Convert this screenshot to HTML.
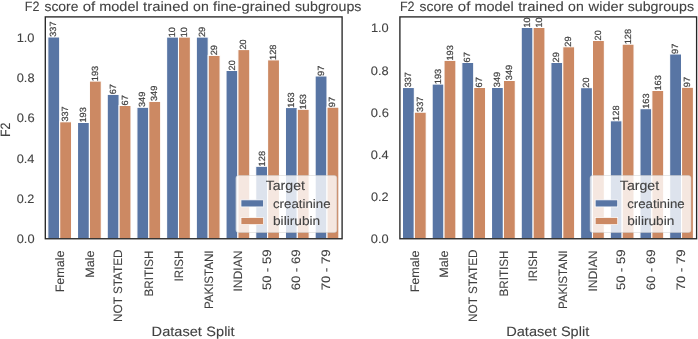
<!DOCTYPE html>
<html><head><meta charset="utf-8"><style>
html,body{margin:0;padding:0;background:#fff;}
svg{display:block;will-change:transform;filter:blur(0.35px);}
text{font-family:"Liberation Sans",sans-serif;text-rendering:geometricPrecision;}
</style></head><body>
<svg width="698" height="339" viewBox="0 0 698 339">
<rect width="698" height="339" fill="#fff"/>
<rect x="47.82" y="36.97" width="11.88" height="201.78" fill="#5875a4" stroke="#fff" stroke-width="1.07"/>
<rect x="59.70" y="121.77" width="11.88" height="116.98" fill="#cc8963" stroke="#fff" stroke-width="1.07"/>
<rect x="77.52" y="122.47" width="11.88" height="116.28" fill="#5875a4" stroke="#fff" stroke-width="1.07"/>
<rect x="89.40" y="81.06" width="11.88" height="157.69" fill="#cc8963" stroke="#fff" stroke-width="1.07"/>
<rect x="107.22" y="94.37" width="11.88" height="144.38" fill="#5875a4" stroke="#fff" stroke-width="1.07"/>
<rect x="119.10" y="105.47" width="11.88" height="133.28" fill="#cc8963" stroke="#fff" stroke-width="1.07"/>
<rect x="136.92" y="107.27" width="11.88" height="131.49" fill="#5875a4" stroke="#fff" stroke-width="1.07"/>
<rect x="148.80" y="101.37" width="11.88" height="137.38" fill="#cc8963" stroke="#fff" stroke-width="1.07"/>
<rect x="166.62" y="37.07" width="11.88" height="201.69" fill="#5875a4" stroke="#fff" stroke-width="1.07"/>
<rect x="178.50" y="37.07" width="11.88" height="201.69" fill="#cc8963" stroke="#fff" stroke-width="1.07"/>
<rect x="196.32" y="37.07" width="11.88" height="201.69" fill="#5875a4" stroke="#fff" stroke-width="1.07"/>
<rect x="208.20" y="55.37" width="11.88" height="183.38" fill="#cc8963" stroke="#fff" stroke-width="1.07"/>
<rect x="226.02" y="70.47" width="11.88" height="168.28" fill="#5875a4" stroke="#fff" stroke-width="1.07"/>
<rect x="237.90" y="49.57" width="11.88" height="189.19" fill="#cc8963" stroke="#fff" stroke-width="1.07"/>
<rect x="255.72" y="166.27" width="11.88" height="72.48" fill="#5875a4" stroke="#fff" stroke-width="1.07"/>
<rect x="267.60" y="59.87" width="11.88" height="178.88" fill="#cc8963" stroke="#fff" stroke-width="1.07"/>
<rect x="285.42" y="107.56" width="11.88" height="131.19" fill="#5875a4" stroke="#fff" stroke-width="1.07"/>
<rect x="297.30" y="109.27" width="11.88" height="129.49" fill="#cc8963" stroke="#fff" stroke-width="1.07"/>
<rect x="315.12" y="75.97" width="11.88" height="162.78" fill="#5875a4" stroke="#fff" stroke-width="1.07"/>
<rect x="327.00" y="107.17" width="11.88" height="131.58" fill="#cc8963" stroke="#fff" stroke-width="1.07"/>
<text transform="translate(56.39,36.72) rotate(-90)" x="0" y="0" font-size="9.0" textLength="15.22" lengthAdjust="spacingAndGlyphs" fill="#424242" stroke="#424242" stroke-width="0.2">337</text>
<text transform="translate(68.25,121.52) rotate(-90)" x="0" y="0" font-size="9.0" textLength="15.22" lengthAdjust="spacingAndGlyphs" fill="#424242" stroke="#424242" stroke-width="0.2">337</text>
<text transform="translate(86.34,122.60) rotate(-90)" x="0" y="0" font-size="9.0" textLength="15.39" lengthAdjust="spacingAndGlyphs" fill="#424242" stroke="#424242" stroke-width="0.2">193</text>
<text transform="translate(98.20,81.20) rotate(-90)" x="0" y="0" font-size="9.0" textLength="15.39" lengthAdjust="spacingAndGlyphs" fill="#424242" stroke="#424242" stroke-width="0.2">193</text>
<text transform="translate(115.79,94.33) rotate(-90)" x="0" y="0" font-size="9.0" textLength="10.26" lengthAdjust="spacingAndGlyphs" fill="#424242" stroke="#424242" stroke-width="0.2">67</text>
<text transform="translate(127.65,105.43) rotate(-90)" x="0" y="0" font-size="9.0" textLength="10.26" lengthAdjust="spacingAndGlyphs" fill="#424242" stroke="#424242" stroke-width="0.2">67</text>
<text transform="translate(145.49,107.02) rotate(-90)" x="0" y="0" font-size="9.0" textLength="15.40" lengthAdjust="spacingAndGlyphs" fill="#424242" stroke="#424242" stroke-width="0.2">349</text>
<text transform="translate(157.35,101.12) rotate(-90)" x="0" y="0" font-size="9.0" textLength="15.40" lengthAdjust="spacingAndGlyphs" fill="#424242" stroke="#424242" stroke-width="0.2">349</text>
<text transform="translate(175.44,37.20) rotate(-90)" x="0" y="0" font-size="9.0" textLength="10.12" lengthAdjust="spacingAndGlyphs" fill="#424242" stroke="#424242" stroke-width="0.2">10</text>
<text transform="translate(187.30,37.20) rotate(-90)" x="0" y="0" font-size="9.0" textLength="10.12" lengthAdjust="spacingAndGlyphs" fill="#424242" stroke="#424242" stroke-width="0.2">10</text>
<text transform="translate(204.89,37.03) rotate(-90)" x="0" y="0" font-size="9.0" textLength="10.26" lengthAdjust="spacingAndGlyphs" fill="#424242" stroke="#424242" stroke-width="0.2">29</text>
<text transform="translate(216.75,55.33) rotate(-90)" x="0" y="0" font-size="9.0" textLength="10.26" lengthAdjust="spacingAndGlyphs" fill="#424242" stroke="#424242" stroke-width="0.2">29</text>
<text transform="translate(234.59,70.43) rotate(-90)" x="0" y="0" font-size="9.0" textLength="10.21" lengthAdjust="spacingAndGlyphs" fill="#424242" stroke="#424242" stroke-width="0.2">20</text>
<text transform="translate(246.45,49.53) rotate(-90)" x="0" y="0" font-size="9.0" textLength="10.21" lengthAdjust="spacingAndGlyphs" fill="#424242" stroke="#424242" stroke-width="0.2">20</text>
<text transform="translate(264.54,166.41) rotate(-90)" x="0" y="0" font-size="9.0" textLength="15.47" lengthAdjust="spacingAndGlyphs" fill="#424242" stroke="#424242" stroke-width="0.2">128</text>
<text transform="translate(276.40,60.01) rotate(-90)" x="0" y="0" font-size="9.0" textLength="15.47" lengthAdjust="spacingAndGlyphs" fill="#424242" stroke="#424242" stroke-width="0.2">128</text>
<text transform="translate(294.24,107.70) rotate(-90)" x="0" y="0" font-size="9.0" textLength="15.39" lengthAdjust="spacingAndGlyphs" fill="#424242" stroke="#424242" stroke-width="0.2">163</text>
<text transform="translate(306.10,109.40) rotate(-90)" x="0" y="0" font-size="9.0" textLength="15.39" lengthAdjust="spacingAndGlyphs" fill="#424242" stroke="#424242" stroke-width="0.2">163</text>
<text transform="translate(323.61,75.93) rotate(-90)" x="0" y="0" font-size="9.0" textLength="10.26" lengthAdjust="spacingAndGlyphs" fill="#424242" stroke="#424242" stroke-width="0.2">97</text>
<text transform="translate(335.47,107.13) rotate(-90)" x="0" y="0" font-size="9.0" textLength="10.26" lengthAdjust="spacingAndGlyphs" fill="#424242" stroke="#424242" stroke-width="0.2">97</text>
<rect x="45.30" y="16.90" width="296.80" height="221.85" fill="none" stroke="#262626" stroke-width="1.34"/>
<rect x="235.90" y="175.50" width="100.9" height="57" rx="2.5" fill="#ffffff" fill-opacity="0.8" stroke="#cccccc" stroke-opacity="0.6" stroke-width="0.8"/>
<rect x="241.00" y="199.90" width="22.5" height="7.0" fill="#5875a4" stroke="#fff" stroke-width="0.7"/>
<rect x="241.00" y="217.60" width="22.5" height="7.0" fill="#cc8963" stroke="#fff" stroke-width="0.7"/>
<text x="265.67" y="189.60" font-size="13.5" textLength="39.31" lengthAdjust="spacingAndGlyphs" fill="#424242" stroke="#424242" stroke-width="0.1">Target</text>
<text x="272.96" y="207.70" font-size="12.35" textLength="57.58" lengthAdjust="spacingAndGlyphs" fill="#424242" stroke="#424242" stroke-width="0.1">creatinine</text>
<text x="273.00" y="224.80" font-size="12.35" textLength="47.23" lengthAdjust="spacingAndGlyphs" fill="#424242" stroke="#424242" stroke-width="0.1">bilirubin</text>
<text x="24.76" y="10.55" font-size="13.5" textLength="14.63" lengthAdjust="spacingAndGlyphs" fill="#424242" stroke="#424242" stroke-width="0.1">F2</text>
<text x="44.44" y="10.55" font-size="13.5" textLength="33.97" lengthAdjust="spacingAndGlyphs" fill="#424242" stroke="#424242" stroke-width="0.1">score</text>
<text x="82.71" y="10.55" font-size="13.5" textLength="12.49" lengthAdjust="spacingAndGlyphs" fill="#424242" stroke="#424242" stroke-width="0.1">of</text>
<text x="99.26" y="10.55" font-size="13.5" textLength="39.44" lengthAdjust="spacingAndGlyphs" fill="#424242" stroke="#424242" stroke-width="0.1">model</text>
<text x="143.14" y="10.55" font-size="13.5" textLength="45.61" lengthAdjust="spacingAndGlyphs" fill="#424242" stroke="#424242" stroke-width="0.1">trained</text>
<text x="193.06" y="10.55" font-size="13.5" textLength="15.68" lengthAdjust="spacingAndGlyphs" fill="#424242" stroke="#424242" stroke-width="0.1">on</text>
<text x="213.10" y="10.55" font-size="13.5" textLength="77.32" lengthAdjust="spacingAndGlyphs" fill="#424242" stroke="#424242" stroke-width="0.1">fine-grained</text>
<text x="295.02" y="10.55" font-size="13.5" textLength="66.38" lengthAdjust="spacingAndGlyphs" fill="#424242" stroke="#424242" stroke-width="0.1">subgroups</text>
<text x="16.69" y="243.15" font-size="12.35" textLength="17.83" lengthAdjust="spacingAndGlyphs" fill="#424242" stroke="#424242" stroke-width="0.1">0.0</text>
<text x="16.70" y="202.90" font-size="12.35" textLength="17.59" lengthAdjust="spacingAndGlyphs" fill="#424242" stroke="#424242" stroke-width="0.1">0.2</text>
<text x="16.69" y="162.65" font-size="12.35" textLength="17.82" lengthAdjust="spacingAndGlyphs" fill="#424242" stroke="#424242" stroke-width="0.1">0.4</text>
<text x="16.69" y="122.40" font-size="12.35" textLength="17.95" lengthAdjust="spacingAndGlyphs" fill="#424242" stroke="#424242" stroke-width="0.1">0.6</text>
<text x="16.69" y="82.15" font-size="12.35" textLength="17.83" lengthAdjust="spacingAndGlyphs" fill="#424242" stroke="#424242" stroke-width="0.1">0.8</text>
<text x="16.70" y="41.90" font-size="12.35" textLength="17.82" lengthAdjust="spacingAndGlyphs" fill="#424242" stroke="#424242" stroke-width="0.1">1.0</text>
<text transform="translate(64.01,292.30) rotate(-90)" x="0" y="0" font-size="12.2" textLength="41.75" lengthAdjust="spacingAndGlyphs" fill="#424242" stroke="#424242" stroke-width="0.1">Female</text>
<text transform="translate(93.71,277.75) rotate(-90)" x="0" y="0" font-size="12.2" textLength="27.34" lengthAdjust="spacingAndGlyphs" fill="#424242" stroke="#424242" stroke-width="0.1">Male</text>
<text transform="translate(122.25,321.95) rotate(-90)" x="0" y="0" font-size="12.2" textLength="72.55" lengthAdjust="spacingAndGlyphs" fill="#424242" stroke="#424242" stroke-width="0.1">NOT STATED</text>
<text transform="translate(153.11,296.42) rotate(-90)" x="0" y="0" font-size="12.2" textLength="45.84" lengthAdjust="spacingAndGlyphs" fill="#424242" stroke="#424242" stroke-width="0.1">BRITISH</text>
<text transform="translate(182.81,281.39) rotate(-90)" x="0" y="0" font-size="12.2" textLength="30.79" lengthAdjust="spacingAndGlyphs" fill="#424242" stroke="#424242" stroke-width="0.1">IRISH</text>
<text transform="translate(212.51,309.11) rotate(-90)" x="0" y="0" font-size="12.2" textLength="58.67" lengthAdjust="spacingAndGlyphs" fill="#424242" stroke="#424242" stroke-width="0.1">PAKISTANI</text>
<text transform="translate(242.09,291.57) rotate(-90)" x="0" y="0" font-size="12.2" textLength="41.01" lengthAdjust="spacingAndGlyphs" fill="#424242" stroke="#424242" stroke-width="0.1">INDIAN</text>
<text transform="translate(270.75,290.06) rotate(-90)" x="0" y="0" font-size="12.2" textLength="40.64" lengthAdjust="spacingAndGlyphs" fill="#424242" stroke="#424242" stroke-width="0.1">50 - 59</text>
<text transform="translate(300.45,290.32) rotate(-90)" x="0" y="0" font-size="12.2" textLength="40.90" lengthAdjust="spacingAndGlyphs" fill="#424242" stroke="#424242" stroke-width="0.1">60 - 69</text>
<text transform="translate(330.15,290.20) rotate(-90)" x="0" y="0" font-size="12.2" textLength="40.78" lengthAdjust="spacingAndGlyphs" fill="#424242" stroke="#424242" stroke-width="0.1">70 - 79</text>
<text x="151.63" y="335.50" font-size="13.5" textLength="50.30" lengthAdjust="spacingAndGlyphs" fill="#424242" stroke="#424242" stroke-width="0.1">Dataset</text>
<text x="206.38" y="335.50" font-size="13.5" textLength="28.25" lengthAdjust="spacingAndGlyphs" fill="#424242" stroke="#424242" stroke-width="0.1">Split</text>
<rect x="402.45" y="87.52" width="11.88" height="151.24" fill="#5875a4" stroke="#fff" stroke-width="1.07"/>
<rect x="414.33" y="112.17" width="11.88" height="126.58" fill="#cc8963" stroke="#fff" stroke-width="1.07"/>
<rect x="432.14" y="84.06" width="11.88" height="154.69" fill="#5875a4" stroke="#fff" stroke-width="1.07"/>
<rect x="444.02" y="60.37" width="11.88" height="178.38" fill="#cc8963" stroke="#fff" stroke-width="1.07"/>
<rect x="461.83" y="62.47" width="11.88" height="176.28" fill="#5875a4" stroke="#fff" stroke-width="1.07"/>
<rect x="473.71" y="87.47" width="11.88" height="151.28" fill="#cc8963" stroke="#fff" stroke-width="1.07"/>
<rect x="491.52" y="87.47" width="11.88" height="151.28" fill="#5875a4" stroke="#fff" stroke-width="1.07"/>
<rect x="503.40" y="80.47" width="11.88" height="158.28" fill="#cc8963" stroke="#fff" stroke-width="1.07"/>
<rect x="521.21" y="27.46" width="11.88" height="211.28" fill="#5875a4" stroke="#fff" stroke-width="1.07"/>
<rect x="533.09" y="27.46" width="11.88" height="211.28" fill="#cc8963" stroke="#fff" stroke-width="1.07"/>
<rect x="550.90" y="62.47" width="11.88" height="176.28" fill="#5875a4" stroke="#fff" stroke-width="1.07"/>
<rect x="562.78" y="46.77" width="11.88" height="191.99" fill="#cc8963" stroke="#fff" stroke-width="1.07"/>
<rect x="580.59" y="87.67" width="11.88" height="151.08" fill="#5875a4" stroke="#fff" stroke-width="1.07"/>
<rect x="592.47" y="40.47" width="11.88" height="198.28" fill="#cc8963" stroke="#fff" stroke-width="1.07"/>
<rect x="610.28" y="120.77" width="11.88" height="117.98" fill="#5875a4" stroke="#fff" stroke-width="1.07"/>
<rect x="622.16" y="44.17" width="11.88" height="194.58" fill="#cc8963" stroke="#fff" stroke-width="1.07"/>
<rect x="639.97" y="108.67" width="11.88" height="130.08" fill="#5875a4" stroke="#fff" stroke-width="1.07"/>
<rect x="651.85" y="90.47" width="11.88" height="148.28" fill="#cc8963" stroke="#fff" stroke-width="1.07"/>
<rect x="669.66" y="53.97" width="11.88" height="184.78" fill="#5875a4" stroke="#fff" stroke-width="1.07"/>
<rect x="681.54" y="87.27" width="11.88" height="151.49" fill="#cc8963" stroke="#fff" stroke-width="1.07"/>
<text transform="translate(411.02,87.27) rotate(-90)" x="0" y="0" font-size="9.0" textLength="15.22" lengthAdjust="spacingAndGlyphs" fill="#424242" stroke="#424242" stroke-width="0.2">337</text>
<text transform="translate(422.88,111.92) rotate(-90)" x="0" y="0" font-size="9.0" textLength="15.22" lengthAdjust="spacingAndGlyphs" fill="#424242" stroke="#424242" stroke-width="0.2">337</text>
<text transform="translate(440.96,84.20) rotate(-90)" x="0" y="0" font-size="9.0" textLength="15.39" lengthAdjust="spacingAndGlyphs" fill="#424242" stroke="#424242" stroke-width="0.2">193</text>
<text transform="translate(452.82,60.50) rotate(-90)" x="0" y="0" font-size="9.0" textLength="15.39" lengthAdjust="spacingAndGlyphs" fill="#424242" stroke="#424242" stroke-width="0.2">193</text>
<text transform="translate(470.40,62.43) rotate(-90)" x="0" y="0" font-size="9.0" textLength="10.26" lengthAdjust="spacingAndGlyphs" fill="#424242" stroke="#424242" stroke-width="0.2">67</text>
<text transform="translate(482.26,87.43) rotate(-90)" x="0" y="0" font-size="9.0" textLength="10.26" lengthAdjust="spacingAndGlyphs" fill="#424242" stroke="#424242" stroke-width="0.2">67</text>
<text transform="translate(500.09,87.22) rotate(-90)" x="0" y="0" font-size="9.0" textLength="15.40" lengthAdjust="spacingAndGlyphs" fill="#424242" stroke="#424242" stroke-width="0.2">349</text>
<text transform="translate(511.95,80.22) rotate(-90)" x="0" y="0" font-size="9.0" textLength="15.40" lengthAdjust="spacingAndGlyphs" fill="#424242" stroke="#424242" stroke-width="0.2">349</text>
<text transform="translate(530.03,27.60) rotate(-90)" x="0" y="0" font-size="9.0" textLength="10.12" lengthAdjust="spacingAndGlyphs" fill="#424242" stroke="#424242" stroke-width="0.2">10</text>
<text transform="translate(541.89,27.60) rotate(-90)" x="0" y="0" font-size="9.0" textLength="10.12" lengthAdjust="spacingAndGlyphs" fill="#424242" stroke="#424242" stroke-width="0.2">10</text>
<text transform="translate(559.47,62.43) rotate(-90)" x="0" y="0" font-size="9.0" textLength="10.26" lengthAdjust="spacingAndGlyphs" fill="#424242" stroke="#424242" stroke-width="0.2">29</text>
<text transform="translate(571.33,46.73) rotate(-90)" x="0" y="0" font-size="9.0" textLength="10.26" lengthAdjust="spacingAndGlyphs" fill="#424242" stroke="#424242" stroke-width="0.2">29</text>
<text transform="translate(589.16,87.63) rotate(-90)" x="0" y="0" font-size="9.0" textLength="10.21" lengthAdjust="spacingAndGlyphs" fill="#424242" stroke="#424242" stroke-width="0.2">20</text>
<text transform="translate(601.02,40.43) rotate(-90)" x="0" y="0" font-size="9.0" textLength="10.21" lengthAdjust="spacingAndGlyphs" fill="#424242" stroke="#424242" stroke-width="0.2">20</text>
<text transform="translate(619.10,120.91) rotate(-90)" x="0" y="0" font-size="9.0" textLength="15.47" lengthAdjust="spacingAndGlyphs" fill="#424242" stroke="#424242" stroke-width="0.2">128</text>
<text transform="translate(630.96,44.31) rotate(-90)" x="0" y="0" font-size="9.0" textLength="15.47" lengthAdjust="spacingAndGlyphs" fill="#424242" stroke="#424242" stroke-width="0.2">128</text>
<text transform="translate(648.79,108.80) rotate(-90)" x="0" y="0" font-size="9.0" textLength="15.39" lengthAdjust="spacingAndGlyphs" fill="#424242" stroke="#424242" stroke-width="0.2">163</text>
<text transform="translate(660.65,90.60) rotate(-90)" x="0" y="0" font-size="9.0" textLength="15.39" lengthAdjust="spacingAndGlyphs" fill="#424242" stroke="#424242" stroke-width="0.2">163</text>
<text transform="translate(678.15,53.93) rotate(-90)" x="0" y="0" font-size="9.0" textLength="10.26" lengthAdjust="spacingAndGlyphs" fill="#424242" stroke="#424242" stroke-width="0.2">97</text>
<text transform="translate(690.01,87.23) rotate(-90)" x="0" y="0" font-size="9.0" textLength="10.26" lengthAdjust="spacingAndGlyphs" fill="#424242" stroke="#424242" stroke-width="0.2">97</text>
<rect x="399.90" y="16.90" width="296.70" height="221.85" fill="none" stroke="#262626" stroke-width="1.34"/>
<rect x="590.10" y="175.50" width="100.9" height="57" rx="2.5" fill="#ffffff" fill-opacity="0.8" stroke="#cccccc" stroke-opacity="0.6" stroke-width="0.8"/>
<rect x="595.20" y="199.90" width="22.5" height="7.0" fill="#5875a4" stroke="#fff" stroke-width="0.7"/>
<rect x="595.20" y="217.60" width="22.5" height="7.0" fill="#cc8963" stroke="#fff" stroke-width="0.7"/>
<text x="619.87" y="189.60" font-size="13.5" textLength="39.31" lengthAdjust="spacingAndGlyphs" fill="#424242" stroke="#424242" stroke-width="0.1">Target</text>
<text x="627.16" y="207.70" font-size="12.35" textLength="57.58" lengthAdjust="spacingAndGlyphs" fill="#424242" stroke="#424242" stroke-width="0.1">creatinine</text>
<text x="627.20" y="224.80" font-size="12.35" textLength="47.23" lengthAdjust="spacingAndGlyphs" fill="#424242" stroke="#424242" stroke-width="0.1">bilirubin</text>
<text x="399.96" y="10.55" font-size="13.5" textLength="14.62" lengthAdjust="spacingAndGlyphs" fill="#424242" stroke="#424242" stroke-width="0.1">F2</text>
<text x="419.62" y="10.55" font-size="13.5" textLength="33.94" lengthAdjust="spacingAndGlyphs" fill="#424242" stroke="#424242" stroke-width="0.1">score</text>
<text x="457.85" y="10.55" font-size="13.5" textLength="12.48" lengthAdjust="spacingAndGlyphs" fill="#424242" stroke="#424242" stroke-width="0.1">of</text>
<text x="474.40" y="10.55" font-size="13.5" textLength="39.41" lengthAdjust="spacingAndGlyphs" fill="#424242" stroke="#424242" stroke-width="0.1">model</text>
<text x="518.23" y="10.55" font-size="13.5" textLength="45.56" lengthAdjust="spacingAndGlyphs" fill="#424242" stroke="#424242" stroke-width="0.1">trained</text>
<text x="568.11" y="10.55" font-size="13.5" textLength="15.66" lengthAdjust="spacingAndGlyphs" fill="#424242" stroke="#424242" stroke-width="0.1">on</text>
<text x="588.58" y="10.55" font-size="13.5" textLength="34.98" lengthAdjust="spacingAndGlyphs" fill="#424242" stroke="#424242" stroke-width="0.1">wider</text>
<text x="627.68" y="10.55" font-size="13.5" textLength="66.32" lengthAdjust="spacingAndGlyphs" fill="#424242" stroke="#424242" stroke-width="0.1">subgroups</text>
<text x="370.89" y="243.15" font-size="12.35" textLength="17.83" lengthAdjust="spacingAndGlyphs" fill="#424242" stroke="#424242" stroke-width="0.1">0.0</text>
<text x="370.90" y="201.00" font-size="12.35" textLength="17.59" lengthAdjust="spacingAndGlyphs" fill="#424242" stroke="#424242" stroke-width="0.1">0.2</text>
<text x="370.89" y="158.85" font-size="12.35" textLength="17.82" lengthAdjust="spacingAndGlyphs" fill="#424242" stroke="#424242" stroke-width="0.1">0.4</text>
<text x="370.89" y="116.70" font-size="12.35" textLength="17.95" lengthAdjust="spacingAndGlyphs" fill="#424242" stroke="#424242" stroke-width="0.1">0.6</text>
<text x="370.89" y="74.55" font-size="12.35" textLength="17.83" lengthAdjust="spacingAndGlyphs" fill="#424242" stroke="#424242" stroke-width="0.1">0.8</text>
<text x="370.90" y="32.40" font-size="12.35" textLength="17.82" lengthAdjust="spacingAndGlyphs" fill="#424242" stroke="#424242" stroke-width="0.1">1.0</text>
<text transform="translate(418.64,292.30) rotate(-90)" x="0" y="0" font-size="12.2" textLength="41.75" lengthAdjust="spacingAndGlyphs" fill="#424242" stroke="#424242" stroke-width="0.1">Female</text>
<text transform="translate(448.33,277.75) rotate(-90)" x="0" y="0" font-size="12.2" textLength="27.34" lengthAdjust="spacingAndGlyphs" fill="#424242" stroke="#424242" stroke-width="0.1">Male</text>
<text transform="translate(476.86,321.95) rotate(-90)" x="0" y="0" font-size="12.2" textLength="72.55" lengthAdjust="spacingAndGlyphs" fill="#424242" stroke="#424242" stroke-width="0.1">NOT STATED</text>
<text transform="translate(507.71,296.42) rotate(-90)" x="0" y="0" font-size="12.2" textLength="45.84" lengthAdjust="spacingAndGlyphs" fill="#424242" stroke="#424242" stroke-width="0.1">BRITISH</text>
<text transform="translate(537.40,281.39) rotate(-90)" x="0" y="0" font-size="12.2" textLength="30.79" lengthAdjust="spacingAndGlyphs" fill="#424242" stroke="#424242" stroke-width="0.1">IRISH</text>
<text transform="translate(567.09,309.11) rotate(-90)" x="0" y="0" font-size="12.2" textLength="58.67" lengthAdjust="spacingAndGlyphs" fill="#424242" stroke="#424242" stroke-width="0.1">PAKISTANI</text>
<text transform="translate(596.66,291.57) rotate(-90)" x="0" y="0" font-size="12.2" textLength="41.01" lengthAdjust="spacingAndGlyphs" fill="#424242" stroke="#424242" stroke-width="0.1">INDIAN</text>
<text transform="translate(625.31,290.06) rotate(-90)" x="0" y="0" font-size="12.2" textLength="40.64" lengthAdjust="spacingAndGlyphs" fill="#424242" stroke="#424242" stroke-width="0.1">50 - 59</text>
<text transform="translate(655.00,290.32) rotate(-90)" x="0" y="0" font-size="12.2" textLength="40.90" lengthAdjust="spacingAndGlyphs" fill="#424242" stroke="#424242" stroke-width="0.1">60 - 69</text>
<text transform="translate(684.69,290.20) rotate(-90)" x="0" y="0" font-size="12.2" textLength="40.78" lengthAdjust="spacingAndGlyphs" fill="#424242" stroke="#424242" stroke-width="0.1">70 - 79</text>
<text x="506.18" y="335.50" font-size="13.5" textLength="50.30" lengthAdjust="spacingAndGlyphs" fill="#424242" stroke="#424242" stroke-width="0.1">Dataset</text>
<text x="560.93" y="335.50" font-size="13.5" textLength="28.25" lengthAdjust="spacingAndGlyphs" fill="#424242" stroke="#424242" stroke-width="0.1">Split</text>
<text transform="translate(9.60,136.93) rotate(-90)" x="0" y="0" font-size="13.5" textLength="14.36" lengthAdjust="spacingAndGlyphs" fill="#424242" stroke="#424242" stroke-width="0.1">F2</text>
</svg>
</body></html>
